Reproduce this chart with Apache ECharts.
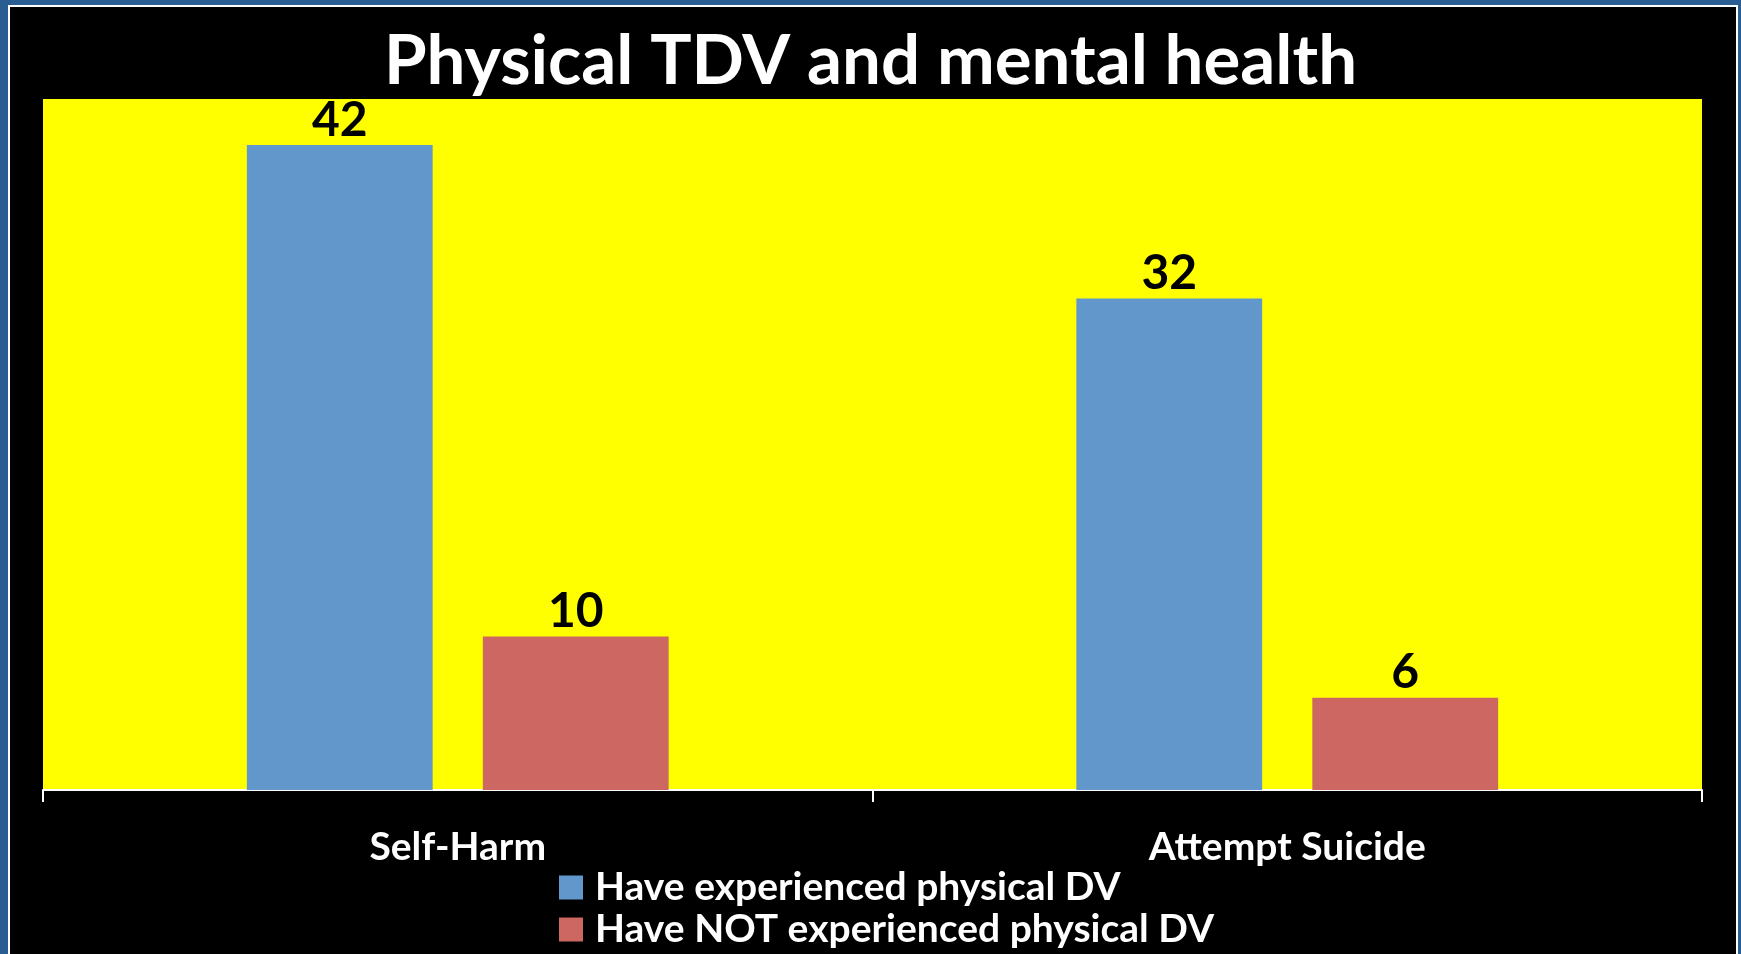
<!DOCTYPE html>
<html>
<head>
<meta charset="utf-8">
<title>Physical TDV and mental health</title>
<script src="https://cdn.jsdelivr.net/npm/echarts@6/dist/echarts.min.js"></script>
<style>
  html, body { margin: 0; padding: 0; width: 1741px; height: 954px; overflow: hidden; background: #2a5e93; }
  #frame {
    position: absolute; left: 8px; top: 5px; width: 1726px; height: 960px;
    border: 2px solid #ffffff; border-bottom: none; background: #000000;
  }
  #chart { position: absolute; left: 0; top: 0; width: 1741px; height: 954px; }
</style>
</head>
<body>
<div id="frame"></div>
<div id="chart"></div>
<script>
  const categories = ["Self-Harm", "Attempt Suicide"];
  const seriesNames = ["Have experienced physical DV", "Have NOT experienced physical DV"];
  const experienced = [42, 32];
  const notExperienced = [10, 6];

  const fontFamily = "Lato, 'Open Sans', sans-serif";

  const chart = echarts.init(document.getElementById("chart"));

  const option = {
    backgroundColor: "transparent",
    animation: false,
    title: {
      text: "Physical TDV and mental health",
      left: "center",
      top: 22,
      textStyle: {
        color: "#ffffff",
        fontFamily: fontFamily,
        fontWeight: "bold",
        fontSize: 69,
      },
    },
    legend: {
      data: seriesNames,
      orient: "vertical",
      left: 559,
      top: 868,
      height: 90,
      padding: 0,
      itemWidth: 24,
      itemHeight: 24,
      itemGap: 3,
      icon: "rect",
      textStyle: {
        color: "#ffffff",
        fontFamily: fontFamily,
        fontWeight: "bold",
        fontSize: 39,
        lineHeight: 39,
        padding: [0, 0, 0, 7],
      },
    },
    grid: {
      left: 43,
      right: 39,
      top: 99,
      bottom: 164,
      show: true,
      backgroundColor: "#ffff00",
      borderWidth: 0,
    },
    xAxis: {
      type: "category",
      data: categories,
      axisLine: { lineStyle: { color: "#ffffff", width: 2 } },
      axisTick: { show: true, length: 12, lineStyle: { color: "#ffffff", width: 2 } },
      axisLabel: {
        color: "#ffffff",
        fontFamily: fontFamily,
        fontWeight: "bold",
        fontSize: 39,
        margin: 38,
      },
    },
    yAxis: {
      type: "value",
      min: 0,
      max: 45,
      show: false,
    },
    series: [
      {
        name: seriesNames[0],
        type: "bar",
        data: experienced,
        barWidth: "22.4%",
        barGap: "27%",
        itemStyle: { color: "#6197cb" },
        label: {
          show: true,
          position: "top",
          distance: 1,
          color: "#000000",
          fontFamily: fontFamily,
          fontWeight: "bold",
          fontSize: 48,
        },
      },
      {
        name: seriesNames[1],
        type: "bar",
        data: notExperienced,
        barWidth: "22.4%",
        barGap: "27%",
        itemStyle: { color: "#cd6761" },
        label: {
          show: true,
          position: "top",
          distance: 1,
          color: "#000000",
          fontFamily: fontFamily,
          fontWeight: "bold",
          fontSize: 48,
        },
      },
    ],
  };

  chart.setOption(option);
</script>
</body>
</html>
